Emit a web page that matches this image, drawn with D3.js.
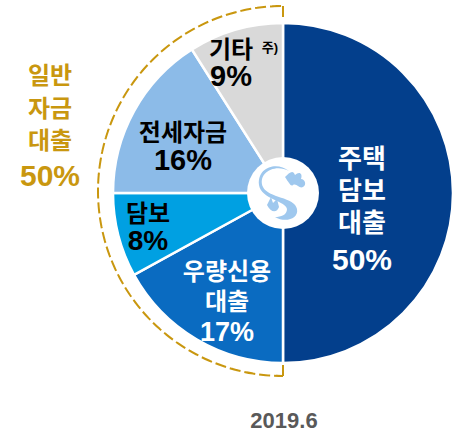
<!DOCTYPE html>
<html>
<head>
<meta charset="utf-8">
<script src="https://cdn.jsdelivr.net/npm/d3@7"></script>
<style>
  html, body { margin: 0; padding: 0; background: #fff; }
  svg { display: block; }
  text { font-family: "Liberation Sans", "Noto Sans CJK KR", sans-serif; font-weight: bold; }
</style>
</head>
<body>
<svg id="chart" width="461" height="435"></svg>
<script>
// Loan portfolio composition (June 2019)
const categories = ["주택담보대출", "우량신용대출", "담보", "전세자금", "기타"];
const labelLines = [["주택", "담보", "대출"], ["우량신용", "대출"], ["담보"], ["전세자금"], ["기타"]];
const values = [50, 17, 8, 16, 9];
const colors = ["#033f8c", "#0a6bc1", "#00a0e2", "#8cbbe8", "#d9d9d9"];
const textColors = ["#ffffff", "#ffffff", "#000000", "#000000", "#000000"];
const groupLabel = ["일반", "자금", "대출"];
const groupValue = 50;
const dateLabel = "2019.6";

const svg = d3.select("#chart");
const cx = 283, cy = 193, R = 170, Rin = 36, Rdash = 185;

const pie = d3.pie().sort(null).value(d => d)(values);
const arc = d3.arc().innerRadius(0).outerRadius(R);

const g = svg.append("g").attr("transform", `translate(${cx},${cy})`);

g.selectAll("path.slice")
  .data(pie)
  .join("path")
  .attr("class", "slice")
  .attr("d", arc)
  .attr("fill", (d, i) => colors[i])
  .attr("stroke", "#fff")
  .attr("stroke-width", 2.5);

// Dashed bracket around the general-purpose loans (second half of the pie)
const gb = svg.append("g").attr("transform", `translate(${cx},${cy - 2})`);
const halfStart = pie[1].startAngle, halfEnd = pie[4].endAngle;
const bracket = d3.arc().innerRadius(Rdash).outerRadius(Rdash)
  .startAngle(halfStart).endAngle(halfEnd);
gb.append("path")
  .attr("d", bracket)
  .attr("fill", "none")
  .attr("stroke", "#c9970f")
  .attr("stroke-width", 2)
  .attr("stroke-dasharray", "9,6");
// short end ticks of the bracket
[halfStart, halfEnd].forEach(a => {
  const sx = Math.sin(a), sy = -Math.cos(a);
  gb.append("line")
    .attr("x1", sx * Rdash).attr("y1", sy * Rdash)
    .attr("x2", sx * (Rdash - 11)).attr("y2", sy * (Rdash - 11))
    .attr("stroke", "#c9970f").attr("stroke-width", 2);
});

// Centre hole with the emblem
g.append("circle").attr("r", Rin).attr("fill", "#fff");
const logo = g.append("g").attr("fill", "#9fc8ee");
logo.append("path")
  .attr("d", "M6,-22 C-8,-30 -26,-20 -20,-6 C-15,5 12,4 14,16 C16,26 2,30 -8,24 C-2,24 4,22 4,16 C3,8 -22,6 -24,-8 C-26,-26 -6,-32 6,-22 Z");
logo.append("path")
  .attr("d", "M2,-16 C6,-20 10,-24 12,-18 C16,-22 20,-20 18,-14 C22,-14 24,-8 20,-6 C16,-4 14,-10 10,-8 C8,-6 6,-10 2,-16 Z");
logo.append("path")
  .attr("d", "M-16,12 L-12,4 L-10,10 L-6,6 L-4,14 C-6,20 -12,20 -16,12 Z");

// Slice labels: centre x, centre y of each line (Korean lines then the percentage)
const labelX = [362, 227, 148, 183, 231];
const lineYs = [[158, 190, 222, 259], [271, 301, 331], [213, 240], [132, 160], [49, 76]];
const korSize = [26, 24, 24, 24, 24];
const numSize = [30, 27, 28, 29, 29];
labelX.forEach((x, i) => {
  const lines = labelLines[i].concat([values[i] + "%"]);
  lines.forEach((s, k) => {
    const isNum = k === lines.length - 1;
    const fs = isNum ? numSize[i] : korSize[i];
    svg.append("text")
      .attr("x", x)
      .attr("y", lineYs[i][k] + fs * (isNum ? 0.36 : 0.38))
      .attr("text-anchor", "middle")
      .attr("fill", textColors[i])
      .attr("font-size", fs)
      .text(s);
  });
});
// footnote marker next to 기타
svg.append("text")
  .attr("x", 270).attr("y", 52)
  .attr("text-anchor", "middle")
  .attr("font-size", 13)
  .attr("fill", "#000")
  .text("주)");

// Group label on the left
const groupYs = [75, 108, 140, 175];
groupLabel.concat([groupValue + "%"]).forEach((s, k) => {
  const isNum = k === 3;
  const fs = isNum ? 30 : 24;
  svg.append("text")
    .attr("x", 50)
    .attr("y", groupYs[k] + fs * (isNum ? 0.36 : 0.38))
    .attr("text-anchor", "middle")
    .attr("fill", "#c9970f")
    .attr("font-size", fs)
    .text(s);
});

// Date
svg.append("text")
  .attr("x", 284).attr("y", 428)
  .attr("text-anchor", "middle")
  .attr("fill", "#595959")
  .attr("font-size", 22)
  .text(dateLabel);
</script>
</body>
</html>
